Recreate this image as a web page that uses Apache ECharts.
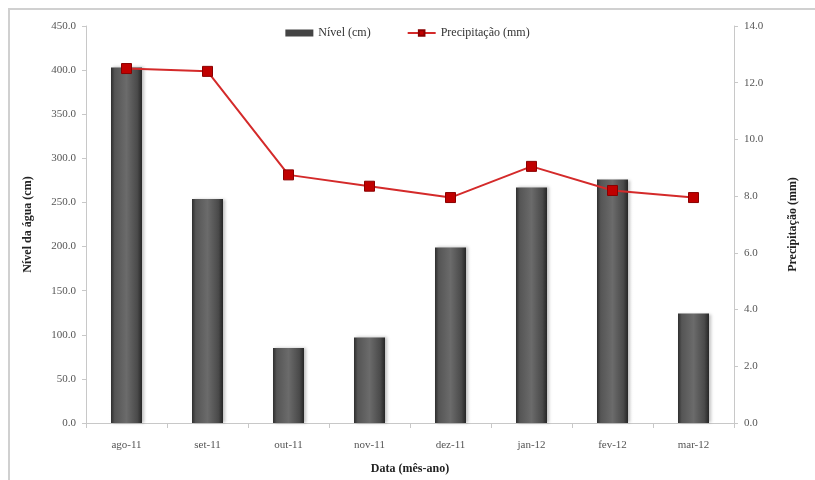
<!DOCTYPE html>
<html>
<head>
<meta charset="utf-8">
<script src="https://cdn.jsdelivr.net/npm/echarts@6/dist/echarts.min.js"></script>
<style>
  html, body { margin: 0; padding: 0; background: #fff; }
  #chart { width: 815px; height: 480px; }
</style>
</head>
<body>
<div id="chart"></div>
<script>
// Monthly water level and precipitation, Aug 2011 – Mar 2012
const months = ['ago-11', 'set-11', 'out-11', 'nov-11', 'dez-11', 'jan-12', 'fev-12', 'mar-12'];
const nivel = [403, 254, 85, 97, 199, 267, 276, 124];
const precipitacao = [12.5, 12.4, 8.75, 8.35, 7.95, 9.05, 8.2, 7.95];
const nivelTicks = [0, 450, 50];
const precTicks = [0, 14, 2];

const FONT = '"Liberation Serif", "DejaVu Serif", serif';
const chart = echarts.init(document.getElementById('chart'), null, { renderer: 'canvas' });

const barFill = new echarts.graphic.LinearGradient(0, 0, 1, 0, [
  { offset: 0, color: '#2e2e2e' },
  { offset: 0.12, color: '#555555' },
  { offset: 0.5, color: '#6b6b6b' },
  { offset: 0.85, color: '#4a4a4a' },
  { offset: 1, color: '#262626' }
]);

chart.setOption({
  animation: false,
  backgroundColor: '#ffffff',
  textStyle: { fontFamily: FONT },
  graphic: [
    { type: 'polyline', shape: { points: [[9, 480], [9, 9], [815, 9]] },
      style: { stroke: '#d0d0d0', lineWidth: 2, fill: null } }
  ],
  legend: {
    top: 22,
    left: 'center',
    itemGap: 36,
    itemWidth: 28,
    itemHeight: 7,
    textStyle: { fontFamily: FONT, fontSize: 12, color: '#333' },
    data: [
      { name: 'Nível (cm)', icon: 'rect', itemStyle: { color: '#444' } },
      { name: 'Precipitação (mm)' }
    ]
  },
  grid: { left: 86, right: 81, top: 26, bottom: 55 },
  xAxis: {
    type: 'category',
    data: months,
    name: 'Data (mês-ano)',
    nameLocation: 'middle',
    nameGap: 40,
    nameTextStyle: { fontFamily: FONT, fontSize: 12, fontWeight: 'bold', color: '#222' },
    axisLine: { lineStyle: { color: '#c8c8c8' } },
    axisTick: { show: true, length: 5, lineStyle: { color: '#c8c8c8' } },
    axisLabel: { fontFamily: FONT, fontSize: 11, color: '#555', margin: 17 }
  },
  yAxis: [
    {
      type: 'value',
      min: nivelTicks[0], max: nivelTicks[1], interval: nivelTicks[2],
      name: 'Nível da água (cm)',
      nameLocation: 'middle',
      nameGap: 52,
      nameTextStyle: { fontFamily: FONT, fontSize: 12, fontWeight: 'bold', color: '#222' },
      axisLine: { show: true, lineStyle: { color: '#c8c8c8' } },
      axisTick: { show: true, length: 4, lineStyle: { color: '#c8c8c8' } },
      splitLine: { show: false },
      axisLabel: { fontFamily: FONT, fontSize: 11, color: '#555', margin: 10,
        formatter: v => v.toFixed(1) }
    },
    {
      type: 'value',
      min: precTicks[0], max: precTicks[1], interval: precTicks[2],
      name: 'Precipitação (mm)',
      nameLocation: 'middle',
      nameGap: 53,
      nameRotate: 90,
      nameTextStyle: { fontFamily: FONT, fontSize: 12, fontWeight: 'bold', color: '#222' },
      axisLine: { show: true, lineStyle: { color: '#c8c8c8' } },
      axisTick: { show: true, length: 4, lineStyle: { color: '#c8c8c8' } },
      splitLine: { show: false },
      axisLabel: { fontFamily: FONT, fontSize: 11, color: '#555', margin: 10,
        formatter: v => v.toFixed(1) }
    }
  ],
  series: [
    {
      name: 'Nível (cm)',
      type: 'bar',
      yAxisIndex: 0,
      data: nivel,
      barWidth: 31,
      itemStyle: { color: barFill, shadowColor: 'rgba(0,0,0,0.25)', shadowBlur: 3, shadowOffsetX: 2 }
    },
    {
      name: 'Precipitação (mm)',
      type: 'line',
      yAxisIndex: 1,
      data: precipitacao,
      symbol: 'rect',
      symbolSize: 10,
      lineStyle: { color: '#d42a2a', width: 2 },
      itemStyle: { color: '#c00000', borderColor: '#8a0000', borderWidth: 1 },
      z: 5
    }
  ]
});
</script>
</body>
</html>
